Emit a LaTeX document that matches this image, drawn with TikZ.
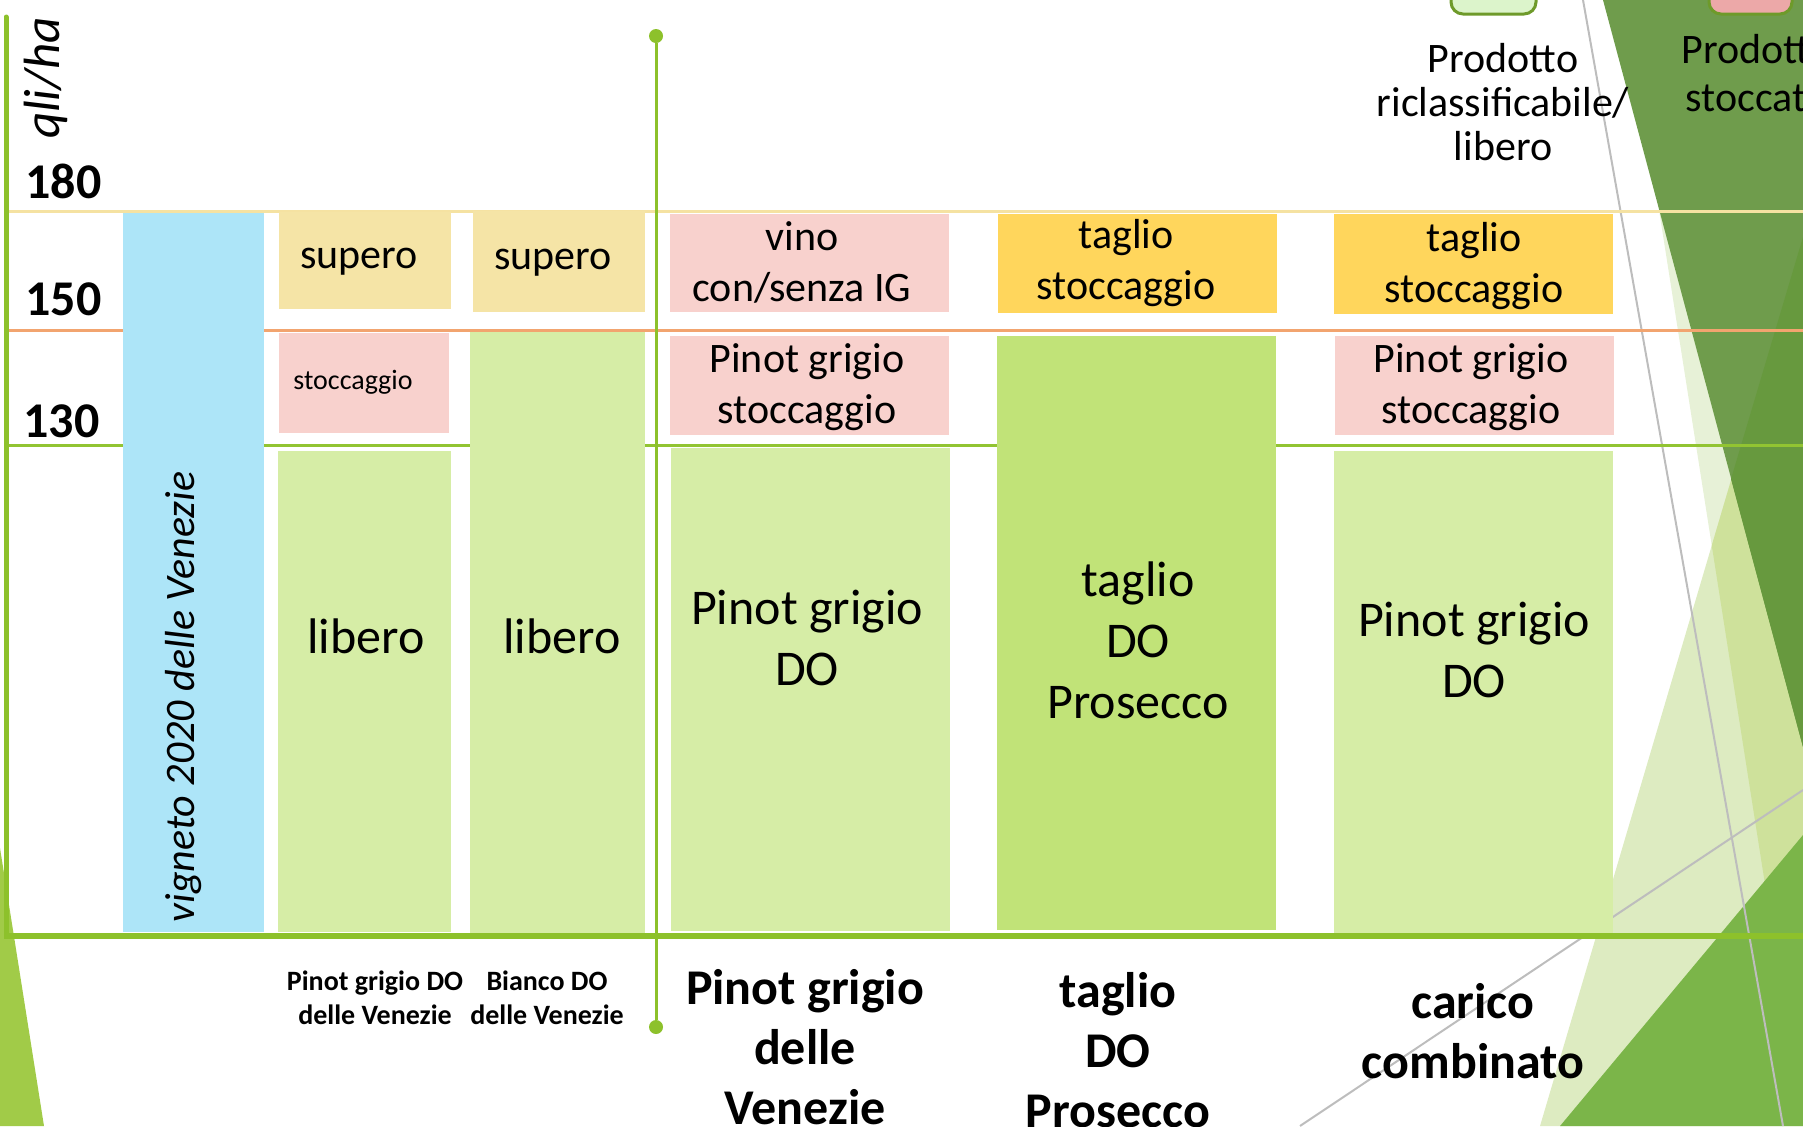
\documentclass[tikz,border=0pt]{standalone}
\usepackage{fontspec}
\setmainfont{Carlito}
\usepackage{tikz}

\definecolor{supero}{HTML}{F5E4A6}
\definecolor{pinkbox}{HTML}{F8D1CD}
\definecolor{libgreen}{HTML}{D6EDA6}
\definecolor{vinblue}{HTML}{ADE5F8}
\definecolor{tagliogold}{HTML}{FFD65C}
\definecolor{prosgreen}{HTML}{C1E378}
\definecolor{axisgreen}{HTML}{8DC12B}
\definecolor{line180}{HTML}{F5E2A2}
\definecolor{line150}{HTML}{F2A46F}
\definecolor{line130}{HTML}{92C432}
\definecolor{darkfacet}{HTML}{6F9C4C}
\definecolor{darkfacet2}{HTML}{67993E}
\definecolor{brightfacet}{HTML}{7BB549}
\definecolor{lightfacet}{HTML}{DDEBC1}
\definecolor{stripfacet}{HTML}{E7F1D7}
\definecolor{midfacet}{HTML}{CEE19B}
\definecolor{wedge}{HTML}{A1CB48}
\definecolor{greyline}{HTML}{BDBDBD}
\definecolor{legfill}{HTML}{DCF4CB}
\definecolor{legpink}{HTML}{ECA8A8}
\definecolor{legborder}{HTML}{6E9A2A}

\tikzset{
  txt/.style={align=center, inner sep=0pt, font=\fontsize{21}{25.5}\selectfont},
  bigtxt/.style={align=center, inner sep=0pt, font=\fontsize{25}{30.5}\selectfont},
  coltitle/.style={align=center, inner sep=0pt, font=\bfseries\fontsize{25}{30}\selectfont},
  smalltitle/.style={align=center, inner sep=0pt, font=\bfseries\fontsize{14}{17}\selectfont},
  ylab/.style={anchor=west, inner sep=0pt, font=\bfseries\fontsize{25}{30}\selectfont},
  legbox/.style={draw=legborder, line width=1.5pt, rounded corners=6pt},
  level/.style={line width=1.5pt},
  dot/.style={circle, fill=axisgreen, inner sep=0pt, minimum size=7pt}
}

\begin{document}
\begin{tikzpicture}[x=0.5pt,y=-0.5pt]
\useasboundingbox (0,0) rectangle (1803,1126);

% slide facets
\fill[stripfacet] (1626,0) -- (1803,0) -- (1803,1126) -- cycle;
\fill[lightfacet] (1540,1126) -- (1803,237) -- (1803,1126) -- cycle;
\begin{scope}
  \clip (1626,0) -- (1803,0) -- (1803,1126) -- cycle;
  \fill[midfacet] (1540,1126) -- (1803,237) -- (1803,1126) -- cycle;
\end{scope}
\fill[brightfacet] (1560,1126) -- (1803,835) -- (1803,1126) -- cycle;
\fill[darkfacet] (1603,0) -- (1803,0) -- (1803,747) -- cycle;
\fill[darkfacet2] (1731,479) -- (1803,237) -- (1803,747) -- cycle;
\draw[greyline, line width=1pt] (1583,0) -- (1783,1126);
\draw[greyline, line width=1pt] (1300,1126) -- (1803,790);
\fill[wedge] (0,848) -- (44,1126) -- (0,1126) -- cycle;

% legend
\draw[legbox, fill=legfill] (1451,-30) rectangle (1536,14);
\draw[legbox, fill=legpink] (1709,-30) rectangle (1792,14);
\node[txt, font=\fontsize{21}{22}\selectfont] (leglib) at (1503,102) {Prodotto\\riclassificabile/\\libero};
\node[txt, font=\fontsize{21}{24}\selectfont] (legstock) at (1757,73) {Prodotto\\stoccato};

% levels
\draw[level, line180] (4,211) -- (1803,211);
\draw[level, line150] (4,330) -- (1803,330);
\draw[level, line130] (4,445) -- (1803,445);
\node[ylab] (y180) at (25,181) {180};
\node[ylab] (y150) at (25,299) {150};
\node[ylab] (y130) at (23,421) {130};
\node[rotate=90, inner sep=0pt, font=\itshape\fontsize{25.5}{29}\selectfont] (unit) at (46,78) {qli/ha};

% vigneto
\fill[vinblue] (123,213) rectangle (264,932);
\node[rotate=90, inner sep=0pt, font=\itshape\fontsize{21}{24}\selectfont] (vign) at (184,697) {vigneto 2020 delle Venezie};

% Pinot grigio DO delle Venezie
\fill[supero] (279,212) rectangle (451,309);
\fill[pinkbox] (279,333) rectangle (449,433);
\fill[libgreen] (278,451) rectangle (451,932);
\node[txt] (sup2) at (359,262) {supero};
\node[txt, font=\fontsize{14}{17}\selectfont] (sto2) at (353,382) {stoccaggio};
\node[bigtxt] (lib2) at (366,636) {libero};
\node[smalltitle] (col2) at (375,998) {Pinot grigio DO\\delle Venezie};

% Bianco DO delle Venezie
\fill[supero] (473,211) rectangle (645,312);
\fill[libgreen] (470,332) rectangle (645,934);
\node[txt] (sup3) at (553,263) {supero};
\node[bigtxt] (lib3) at (562,636) {libero};
\node[smalltitle] (col3) at (547,998) {Bianco DO\\delle Venezie};

% divider
\node[dot] (divtop) at (656,36) {};
\node[dot] (divbot) at (656,1027) {};
\draw[axisgreen, line width=1.5pt] (divtop) -- (divbot);

% Pinot grigio delle Venezie
\fill[pinkbox] (670,214) rectangle (949,312);
\fill[pinkbox] (670,336) rectangle (949,435);
\fill[libgreen] (671,448) rectangle (950,931);
\node[txt] (vino4) at (802,262) {vino\\con/senza IG};
\node[txt] (sto4) at (807,387) {Pinot grigio\\stoccaggio};
\node[bigtxt] (do4) at (807,638) {Pinot grigio\\DO};
\node[coltitle] (col4) at (805,1047) {Pinot grigio\\delle\\Venezie};

% taglio DO Prosecco
\fill[tagliogold] (998,214) rectangle (1277,313);
\fill[prosgreen] (997,336) rectangle (1276,930);
\node[txt] (sto5) at (1126,263) {taglio\\stoccaggio};
\node[bigtxt] (do5) at (1138,640) {taglio\\DO\\Prosecco};
\node[coltitle] (col5) at (1118,1050) {taglio\\DO\\Prosecco};

% carico combinato
\fill[tagliogold] (1334,214) rectangle (1613,314);
\fill[pinkbox] (1335,336) rectangle (1614,435);
\fill[libgreen] (1334,451) rectangle (1613,934);
\node[txt] (sto6) at (1474,266) {taglio\\stoccaggio};
\node[txt] (pst6) at (1471,387) {Pinot grigio\\stoccaggio};
\node[bigtxt] (do6) at (1474,650) {Pinot grigio\\DO};
\node[coltitle] (col6) at (1473,1031) {carico\\combinato};

% axes
\draw[axisgreen, line width=2.5pt, line cap=round] (6,17) -- (6,936);
\draw[axisgreen, line width=3pt] (4,936) -- (1803,936);
\end{tikzpicture}
\end{document}
